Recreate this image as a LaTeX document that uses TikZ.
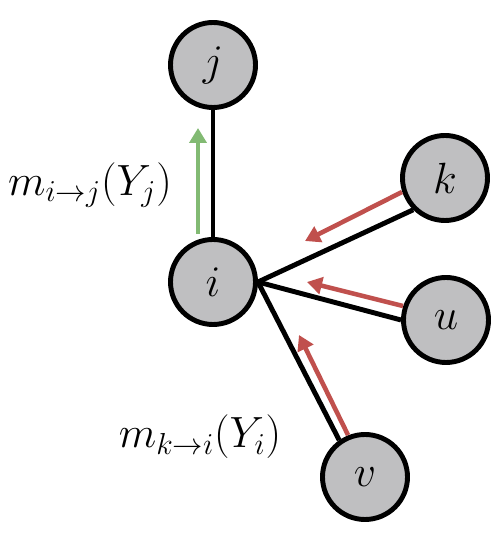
\documentclass[tikz,border=0pt]{standalone}
\usepackage{amsmath,amssymb}
\usepackage{xcolor}
\usepackage{tikz}
\usetikzlibrary{arrows.meta,positioning,calc}

\definecolor{msgred}{RGB}{192,80,77}
\definecolor{msggreen}{RGB}{130,186,115}
\definecolor{nodegray}{RGB}{191,191,193}

\begin{document}
\begin{tikzpicture}[
    var/.style={draw,circle,fill=nodegray,line width=2.8pt,minimum size=1.7cm,inner sep=0pt,font=\fontsize{26}{30}\selectfont},
    edge/.style={line width=2.8pt},
    msg/.style={line width=2.6pt,-{Triangle[length=0.3cm,width=0.34cm]}},
    lbl/.style={font=\fontsize{26}{30}\selectfont}
]
            \useasboundingbox (0,0) rectangle (9.92,10.68);

            % Variables
            \node[var] (j) at (4.26,9.38) {$j$};
            \node[var] (i) at (4.26,5.04) {$i$};
            \node[var] (k) at (8.9,7.12) {$k$};
            \node[var] (u) at (8.92,4.28) {$u$};
            \node[var] (v) at (7.3,1.14) {$v$};

            % Edges
            \draw[edge] (j.south) -- (i.north);
            \draw[edge] (i.east) -- (k.south west);
            \draw[edge] (i.east) -- (u.west);
            \draw[edge] (i.east) -- (v.125);

            % Messages
            \coordinate (ij0) at (3.96,6.0);
            \coordinate (ij1) at (3.96,8.12);
            \coordinate (ki0) at (8.04,6.84);
            \coordinate (ki1) at (6.1,5.86);
            \coordinate (ui0) at (8.06,4.56);
            \coordinate (ui1) at (6.14,5.04);
            \coordinate (vi0) at (6.96,1.98);
            \coordinate (vi1) at (5.98,3.98);
            \draw[msg,msggreen] (ij0) -- (ij1);
            \draw[msg,msgred] (ki0) -- (ki1);
            \draw[msg,msgred] (ui0) -- (ui1);
            \draw[msg,msgred] (vi0) -- (vi1);

            % Labels
            \node[lbl] (mij) at (1.8,6.98) {$m_{i\to j}(Y_j)$};
            \node[lbl] (mki) at (4.0,1.94) {$m_{k\to i}(Y_i)$};
        \end{tikzpicture}
\end{document}
